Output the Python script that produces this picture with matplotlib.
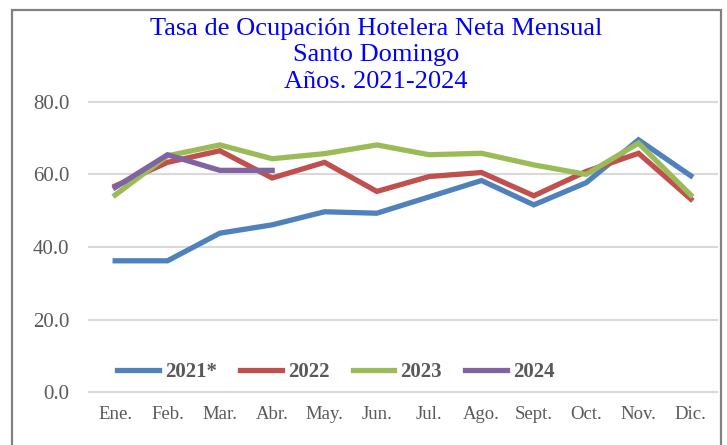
import matplotlib
matplotlib.use("Agg")
import matplotlib.pyplot as plt
from matplotlib.patches import Rectangle

months = ["Ene.", "Feb.", "Mar.", "Abr.", "May.", "Jun.", "Jul.", "Ago.", "Sept.", "Oct.", "Nov.", "Dic."]
y2021 = [36.2, 36.2, 43.8, 46.1, 49.7, 49.3, 53.8, 58.3, 51.6, 57.7, 69.5, 59.6]
y2022 = [56.8, 63.3, 66.5, 59.0, 63.3, 55.3, 59.4, 60.5, 54.1, 60.8, 65.8, 53.2]
y2023 = [54.3, 65.1, 68.1, 64.3, 65.7, 68.1, 65.4, 65.8, 62.6, 60.0, 68.6, 54.3]
y2024 = [56.4, 65.4, 61.1, 61.1]
series_labels = ["2021*", "2022", "2023", "2024"]
yticks = [0, 20, 40, 60, 80]

colors = ["#4F81BD", "#C0504D", "#9BBB59", "#8064A2"]
serif = ["Liberation Serif", "DejaVu Serif"]
W, H = 727, 445

fig = plt.figure(figsize=(W / 100, H / 100), dpi=100)
ax = fig.add_axes([89 / W, (H - 392.3) / H, (717 - 89) / W, (392.3 - 101.7) / H])

x = list(range(len(months)))
for data, c, lab in zip([y2021, y2022, y2023, y2024], colors, series_labels):
    ax.plot(x[:len(data)], data, color=c, lw=3.8, label=lab, solid_joinstyle="miter", zorder=3)

ax.set_xlim(-0.5, 11.5)
ax.set_ylim(0, 80)
ax.set_yticks(yticks)
ax.set_yticklabels([f"{v:.1f}" for v in yticks], fontfamily=serif, fontsize=15, color="#595959")
ax.set_xticks(x)
ax.set_xticklabels(months, fontfamily=serif, fontsize=13.5, color="#595959")
ax.grid(axis="y", color="#D9D9D9", lw=1.5, zorder=0)
ax.set_axisbelow(True)
for s in ["top", "right", "left"]:
    ax.spines[s].set_visible(False)
ax.spines["bottom"].set_color("#D9D9D9")
ax.spines["bottom"].set_linewidth(1.5)
ax.tick_params(axis="both", length=0)
ax.tick_params(axis="y", pad=14)
ax.tick_params(axis="x", pad=10)
for gl in ax.get_ygridlines():
    gl.set_clip_on(False)

leg = fig.legend(loc="center", bbox_to_anchor=(336 / W, (H - 372) / H), ncol=4, frameon=False,
                 prop={"family": serif, "size": 15, "weight": "bold"},
                 handlelength=2.0, handletextpad=0.3, columnspacing=1.1)
for t in leg.get_texts():
    t.set_color("#595959")
for l in leg.get_lines():
    l.set_linewidth(3.8)

title_lines = ["Tasa de Ocupación Hotelera Neta Mensual", "Santo Domingo", "Años. 2021-2024"]
for i, tl in enumerate(title_lines):
    fig.text(376 / W, (H - (29 + 26.5 * i)) / H, tl, ha="center", va="center",
             fontfamily=serif, fontsize=19, color="#0000FF")

fig.patches.append(Rectangle((12 / W, -20 / H), (721 - 12) / W, (H - 10 + 20) / H,
                             transform=fig.transFigure, fill=False, edgecolor="#808080", lw=1.6))

fig.savefig("out.png", dpi=100)
